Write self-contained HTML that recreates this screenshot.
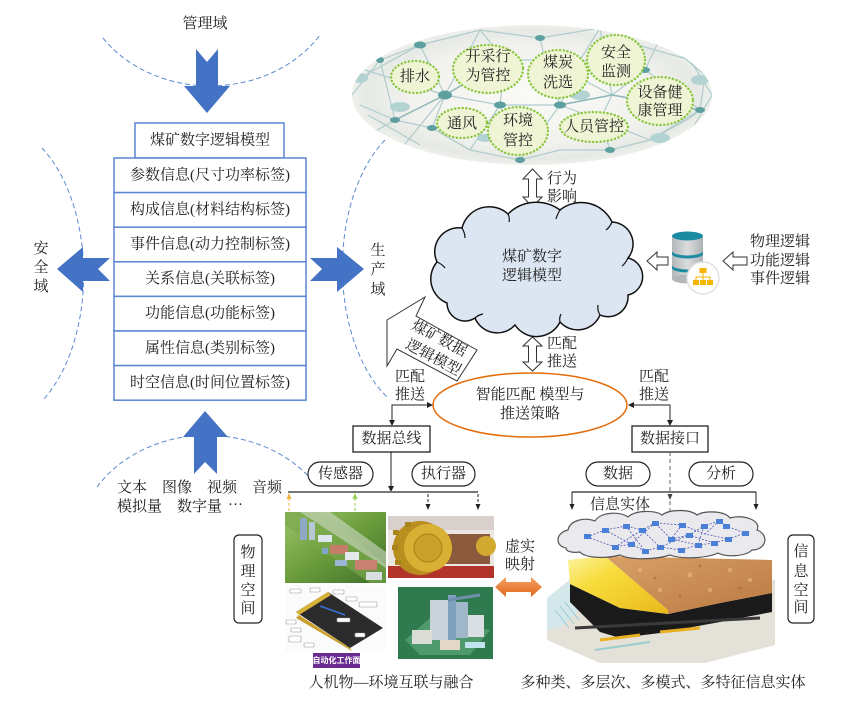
<!DOCTYPE html>
<html><head><meta charset="utf-8">
<style>
html,body{margin:0;padding:0;background:#fff;}
svg{display:block;}
text{font-family:"Liberation Serif","Noto Serif CJK SC","Noto Sans CJK SC",serif;font-size:15px;fill:#222;}
</style></head><body>
<svg width="844" height="702" viewBox="0 0 844 702" xmlns="http://www.w3.org/2000/svg">
<defs>
 <radialGradient id="eg" cx="50%" cy="50%" r="50%">
  <stop offset="0" stop-color="#fafaf7"/>
  <stop offset="0.7" stop-color="#f1f2ee"/>
  <stop offset="0.92" stop-color="#e6e9e4"/>
  <stop offset="1" stop-color="#eef0ec"/>
 </radialGradient>
 <clipPath id="ec"><ellipse cx="532" cy="95" rx="180" ry="70"/></clipPath>
 <linearGradient id="grn" x1="0" y1="0" x2="1" y2="1">
  <stop offset="0" stop-color="#9cc46a"/><stop offset="0.5" stop-color="#6a9c3c"/><stop offset="1" stop-color="#3f6e2a"/>
 </linearGradient>
 <linearGradient id="yel" x1="0" y1="0" x2="1" y2="1">
  <stop offset="0" stop-color="#fbf3a0"/><stop offset="0.35" stop-color="#f8dc3c"/><stop offset="1" stop-color="#e9b91a"/>
 </linearGradient>
 <linearGradient id="brn" x1="0" y1="0" x2="1" y2="1">
  <stop offset="0" stop-color="#d8a066"/><stop offset="1" stop-color="#bb7a42"/>
 </linearGradient>
 <linearGradient id="dbg" x1="0" y1="0" x2="1" y2="0">
  <stop offset="0" stop-color="#b4b7b9"/><stop offset="0.5" stop-color="#dadcdd"/><stop offset="1" stop-color="#aeb1b3"/>
 </linearGradient>
 <linearGradient id="org" x1="0" y1="0" x2="0" y2="1">
  <stop offset="0" stop-color="#f4a261"/><stop offset="1" stop-color="#e0661c"/>
 </linearGradient>
</defs>

<!-- dashed domain arcs -->
<g fill="none" stroke="#5b8bd0" stroke-width="1" stroke-dasharray="5,3">
 <path d="M103,38 A130,110 0 0 0 320,35"/>
 <path d="M42,148 A90,150 0 0 1 43,400"/>
 <path d="M385,140 A90,150 0 0 0 387,397"/>
 <path d="M97,487 A130,110 0 0 1 310,478"/>
</g>

<text x="205" y="24" text-anchor="middle" dominant-baseline="central">管理域</text>

<!-- blue arrows -->
<g fill="#4472c4">
 <polygon points="196,49 207,62 218,49 218,86 230,86 207,113 184,86 196,86"/>
 <polygon points="205,411 228,437 217,437 217,474 205,462 194,474 194,437 183,437"/>
 <polygon points="57,269 83,247 83,258 110,258 98,269 110,281 83,281 83,292"/>
 <polygon points="310,258 337,258 337,247 364,269 337,292 337,281 310,281 322,269"/>
</g>

<g text-anchor="middle" dominant-baseline="central">
 <text x="41" y="249">安</text><text x="41" y="268">全</text><text x="41" y="287">域</text>
 <text x="378" y="251">生</text><text x="378" y="270">产</text><text x="378" y="290">域</text>
</g>

<!-- table -->
<g fill="#fff" stroke="#5b86d2" stroke-width="1.5">
 <rect x="135" y="123" width="149" height="35"/>
 <rect x="114" y="158" width="192" height="34.6"/>
 <rect x="114" y="192.6" width="192" height="34.6"/>
 <rect x="114" y="227.2" width="192" height="34.6"/>
 <rect x="114" y="261.8" width="192" height="34.6"/>
 <rect x="114" y="296.4" width="192" height="34.6"/>
 <rect x="114" y="331" width="192" height="34.6"/>
 <rect x="114" y="365.6" width="192" height="34.6"/>
</g>
<g text-anchor="middle" dominant-baseline="central" style="fill:#333">
 <text x="210" y="140.5">煤矿数字逻辑模型</text>
 <text x="210" y="175.5">参数信息(尺寸功率标签)</text>
 <text x="210" y="210">构成信息(材料结构标签)</text>
 <text x="210" y="244.5">事件信息(动力控制标签)</text>
 <text x="210" y="279">关系信息(关联标签)</text>
 <text x="210" y="313.7">功能信息(功能标签)</text>
 <text x="210" y="348.3">属性信息(类别标签)</text>
 <text x="210" y="383">时空信息(时间位置标签)</text>
</g>

<!-- bottom-left data types -->
<text x="117" y="488" dominant-baseline="central">文本</text>
<text x="162" y="488" dominant-baseline="central">图像</text>
<text x="207" y="488" dominant-baseline="central">视频</text>
<text x="252" y="488" dominant-baseline="central">音频</text>
<text x="117" y="507" dominant-baseline="central">模拟量</text>
<text x="177" y="507" dominant-baseline="central">数字量</text>
<text x="228" y="505" dominant-baseline="central">···</text>

<!-- top network ellipse -->
<ellipse cx="532" cy="95" rx="180" ry="70" fill="url(#eg)"/>
<g clip-path="url(#ec)">
 <g fill="none" stroke="#b1cccd" stroke-width="1.2">
  <path d="M356,80 L420,45 L480,30 L540,38 L600,28 L660,38 L705,75"/>
  <path d="M360,105 L395,120 L432,128 L470,150 L520,160 L560,150 L610,150 L650,140 L690,118"/>
  <path d="M380,60 L395,120 M420,45 L445,95 L432,128 M445,95 L500,105 L560,105 L600,120 L650,140"/>
  <path d="M480,30 L505,60 L500,105 L470,150 M540,38 L545,60 L560,105 L520,160"/>
  <path d="M600,28 L612,95 L600,120 L610,150 M660,38 L645,70 L612,95 M645,70 L700,110 L690,118"/>
  <path d="M705,75 L700,110 M365,70 L445,95 M395,120 L360,140 M505,60 L545,60 L612,95"/>
  <path d="M445,95 L480,30 M560,105 L580,60 L600,28 M580,60 L645,70 M470,150 L432,128 M650,140 L700,110 M368,115 L420,145"/>
  <path d="M352,95 L380,60 L420,45 M690,60 L712,95 L680,150 M400,150 L445,95 M620,40 L690,60"/>
 </g>
 <g fill="none" stroke="#8db6b7" stroke-width="1.5">
  <path d="M395,120 L445,95 L505,60 M560,105 L612,95 L700,110"/>
 </g>
 <g fill="#5e9fa0">
  <ellipse cx="420" cy="45" rx="6" ry="3.5"/><ellipse cx="445" cy="95" rx="7" ry="4.5"/>
  <ellipse cx="432" cy="128" rx="5" ry="3"/><ellipse cx="500" cy="105" rx="6" ry="3.5"/>
  <ellipse cx="505" cy="60" rx="5" ry="3"/><ellipse cx="545" cy="60" rx="5" ry="3"/>
  <ellipse cx="560" cy="105" rx="6" ry="3.5"/><ellipse cx="600" cy="120" rx="6" ry="3.5"/>
  <ellipse cx="645" cy="70" rx="5" ry="3"/><ellipse cx="700" cy="110" rx="5" ry="3"/>
  <ellipse cx="395" cy="120" rx="5" ry="3"/><ellipse cx="520" cy="160" rx="5" ry="3"/>
  <ellipse cx="380" cy="60" rx="4" ry="3"/><ellipse cx="540" cy="38" rx="5" ry="3"/>
  <ellipse cx="660" cy="38" rx="4" ry="3"/><ellipse cx="610" cy="150" rx="5" ry="3"/>
 </g>
 <g fill="#b3d2d2">
  <ellipse cx="400" cy="107" rx="10" ry="5"/><ellipse cx="580" cy="95" rx="10" ry="5"/>
  <ellipse cx="660" cy="138" rx="10" ry="5"/><ellipse cx="700" cy="80" rx="9" ry="5"/>
  <ellipse cx="360" cy="78" rx="8" ry="5"/><ellipse cx="485" cy="138" rx="8" ry="4"/>
 </g>
</g>

<!-- green nodes -->
<g fill="#eff4d4" stroke="#8cc63f" stroke-width="2.4" stroke-dasharray="0.1,3.6" stroke-linecap="round">
 <ellipse cx="415" cy="77" rx="24" ry="16"/>
 <ellipse cx="488" cy="69" rx="35" ry="24"/>
 <ellipse cx="558" cy="74" rx="30" ry="24"/>
 <ellipse cx="616" cy="60" rx="29" ry="25"/>
 <ellipse cx="660" cy="101" rx="33" ry="24"/>
 <ellipse cx="462" cy="123" rx="25" ry="15"/>
 <ellipse cx="518" cy="131" rx="30" ry="24"/>
 <ellipse cx="594" cy="127" rx="34" ry="15"/>
</g>
<g text-anchor="middle" dominant-baseline="central">
 <text x="415" y="77">排水</text>
 <text x="488" y="57">开采行</text><text x="488" y="76">为管控</text>
 <text x="558" y="63">煤炭</text><text x="558" y="83">洗选</text>
 <text x="616" y="53">安全</text><text x="616" y="72">监测</text>
 <text x="660" y="93">设备健</text><text x="660" y="111">康管理</text>
 <text x="462" y="124">通风</text>
 <text x="518" y="121">环境</text><text x="518" y="141">管控</text>
 <text x="594" y="127">人员管控</text>
</g>

<!-- hollow double arrows -->
<g fill="#fff" stroke="#333" stroke-width="1">
 <polygon points="532.5,169 542,179 536.5,179 536.5,197 542,197 532.5,207 523,197 528.5,197 528.5,179 523,179"/>
 <polygon points="532.5,337 542,346 536.5,346 536.5,362 542,362 532.5,371 523,362 528.5,362 528.5,346 523,346"/>
 <polygon points="647,261 657,252 657,257 668,257 668,265 657,265 657,270"/>
 <polygon points="723,261 733,252 733,257 747,257 747,265 733,265 733,270"/>
</g>
<text x="547" y="179" dominant-baseline="central">行为</text>
<text x="547" y="197" dominant-baseline="central">影响</text>
<text x="547" y="344" dominant-baseline="central">匹配</text>
<text x="547" y="362" dominant-baseline="central">推送</text>

<!-- cloud -->
<path d="M447,303 A26,26 0 0 1 437,262 A24,24 0 0 1 462,228 A28,28 0 0 1 508,214 A40,40 0 0 1 560,210 A34,34 0 0 1 612,222 A22,22 0 0 1 628,258 A19,19 0 0 1 628,295 A20,20 0 0 1 600,315 A24,24 0 0 1 560,322 A26,26 0 0 1 515,325 A24,24 0 0 1 475,318 A18,18 0 0 1 447,303 Z" fill="#dce6f2" stroke="#111" stroke-width="1.5"/>
<g fill="none" stroke="#111" stroke-width="1.2">
 <path d="M462,228 q3,5 3,10"/><path d="M508,214 q2,4 1,8"/><path d="M560,210 q-3,5 -4,9"/>
 <path d="M612,222 q-2,5 -6,8"/><path d="M628,258 q-3,6 -6,8"/><path d="M600,315 q-3,-5 -2,-10"/>
 <path d="M560,322 q-1,-4 1,-8"/><path d="M475,318 q3,-3 8,-4"/><path d="M437,262 q5,2 8,6"/>
</g>
<text x="532" y="257" text-anchor="middle" dominant-baseline="central">煤矿数字</text>
<text x="532" y="276" text-anchor="middle" dominant-baseline="central">逻辑模型</text>

<!-- database icon -->
<g>
 <rect x="672" y="236" width="31" height="43" fill="url(#dbg)"/>
 <ellipse cx="687.5" cy="279" rx="15.5" ry="4.5" fill="#b4b7b9"/>
 <ellipse cx="687.5" cy="236" rx="15.5" ry="4.5" fill="#1b8aa3"/>
 <path d="M672,251 a15.5,4.5 0 0 0 31,0 v3 a15.5,4.5 0 0 1 -31,0 z" fill="#1b8aa3"/>
 <path d="M672,265 a15.5,4.5 0 0 0 31,0 v3 a15.5,4.5 0 0 1 -31,0 z" fill="#1b8aa3"/>
 <circle cx="703" cy="278" r="16" fill="#fff" stroke="#e2e2e2" stroke-width="1.5"/>
 <g fill="#f5b400">
  <rect x="699.5" y="268" width="7" height="5"/>
  <rect x="693" y="280" width="6" height="5"/><rect x="700" y="280" width="6" height="5"/><rect x="707" y="280" width="6" height="5"/>
 </g>
 <path d="M703,273 v4 M696,280 v-3 h14 v3 M703,277 v3" stroke="#f5b400" stroke-width="1" fill="none"/>
</g>
<text x="750" y="242" dominant-baseline="central">物理逻辑</text>
<text x="750" y="261" dominant-baseline="central">功能逻辑</text>
<text x="750" y="279" dominant-baseline="central">事件逻辑</text>

<!-- callout arrow -->
<polygon points="387,320 425,297 416,316 477,350 457,381 397,349 387,366" fill="#fff" stroke="#333" stroke-width="1"/>
<g style="font-size:14px" text-anchor="middle" dominant-baseline="central">
 <text transform="translate(439,339) rotate(28)">煤矿数据</text>
 <text transform="translate(433,358) rotate(28)">逻辑模型</text>
</g>

<text x="395" y="377" dominant-baseline="central">匹配</text>
<text x="395" y="395" dominant-baseline="central">推送</text>
<text x="639" y="377" dominant-baseline="central">匹配</text>
<text x="639" y="395" dominant-baseline="central">推送</text>

<!-- orange ellipse -->
<ellipse cx="530" cy="405" rx="97" ry="32" fill="#fff" stroke="#e46c0a" stroke-width="1.5"/>
<text x="530" y="395" text-anchor="middle" dominant-baseline="central">智能匹配  模型与</text>
<text x="530" y="414" text-anchor="middle" dominant-baseline="central">推送策略</text>

<!-- connectors -->
<g fill="none" stroke="#222" stroke-width="1">
 <path d="M428,405 H392 V421"/>
 <path d="M634,405 H670 V421"/>
 <path d="M391,452 V487"/>
</g>
<g fill="#222">
 <polygon points="433,405 427,402 427,408"/>
 <polygon points="392,426 389,420 395,420"/>
 <polygon points="628,405 634,402 634,408"/>
 <polygon points="670,426 667,420 673,420"/>
 <polygon points="391,492 388,486 394,486"/>
</g>

<!-- boxes -->
<rect x="353" y="426" width="77" height="26" fill="#fff" stroke="#222" stroke-width="1.3"/>
<text x="391.5" y="439" text-anchor="middle" dominant-baseline="central">数据总线</text>
<rect x="632" y="426" width="76" height="26" fill="#fff" stroke="#222" stroke-width="1.3"/>
<text x="670" y="439" text-anchor="middle" dominant-baseline="central">数据接口</text>

<!-- pills -->
<g fill="#fff" stroke="#222" stroke-width="1.2">
 <rect x="308" y="462" width="65" height="24" rx="12"/>
 <rect x="412" y="462" width="63" height="24" rx="12"/>
 <rect x="586" y="462" width="64" height="24" rx="12"/>
 <rect x="689" y="462" width="64" height="24" rx="12"/>
</g>
<g text-anchor="middle" dominant-baseline="central">
 <text x="340.5" y="474">传感器</text>
 <text x="443.5" y="474">执行器</text>
 <text x="618" y="474">数据</text>
 <text x="721" y="474">分析</text>
</g>

<!-- left bus -->
<line x1="288" y1="492" x2="478" y2="492" stroke="#777" stroke-width="2"/>
<g stroke-width="1" stroke-dasharray="3,2" fill="none">
 <line x1="289" y1="498" x2="289" y2="511" stroke="#f0b040"/>
 <line x1="355" y1="498" x2="355" y2="511" stroke="#92d050"/>
 <line x1="428" y1="494" x2="428" y2="508" stroke="#222"/>
 <line x1="478" y1="494" x2="478" y2="508" stroke="#222"/>
</g>
<polygon points="289,493 286.5,499 291.5,499" fill="#f0b040"/>
<polygon points="355,493 352.5,499 357.5,499" fill="#92d050"/>
<polygon points="428,510 425.5,504 430.5,504" fill="#222"/>
<polygon points="478,510 475.5,504 480.5,504" fill="#222"/>

<!-- right bus -->
<line x1="572" y1="492" x2="756" y2="492" stroke="#777" stroke-width="2"/>
<g stroke="#222" stroke-width="1" fill="none">
 <line x1="572" y1="492" x2="572" y2="505"/>
 <line x1="756" y1="492" x2="756" y2="505"/>
 <line x1="670" y1="452" x2="670" y2="512" stroke="#666" stroke-dasharray="4,3"/>
</g>
<polygon points="572,510 569.5,504 574.5,504" fill="#222"/>
<polygon points="756,510 753.5,504 758.5,504" fill="#222"/>
<polygon points="670,500 667.5,494 672.5,494" fill="#444"/>
<text x="620" y="505" text-anchor="middle" dominant-baseline="central">信息实体</text>

<!-- photo 1: aerial -->
<g>
 <rect x="285" y="512" width="101" height="71" fill="url(#grn)"/>
 <polygon points="285,512 320,512 386,565 386,583 370,583 285,525" fill="#7aa84c" opacity="0.7"/>
 <polygon points="300,512 330,512 386,552 386,568" fill="#cfd9c6" opacity="0.6"/>
 <rect x="300" y="518" width="7" height="22" fill="#8fa9c4"/>
 <rect x="309" y="522" width="6" height="18" fill="#b8c7d6"/>
 <rect x="318" y="535" width="14" height="7" fill="#dfe7ee"/>
 <rect x="330" y="545" width="18" height="9" fill="#c67c6a"/>
 <rect x="345" y="552" width="14" height="8" fill="#e6e9ec"/>
 <rect x="355" y="560" width="22" height="10" fill="#c88070"/>
 <rect x="335" y="560" width="12" height="6" fill="#9bb7d4"/>
 <rect x="366" y="572" width="16" height="8" fill="#d9dee3"/>
 <rect x="322" y="548" width="6" height="6" fill="#7fa6c9"/>
</g>
<!-- photo 2: bucket wheel -->
<g>
 <rect x="388" y="516" width="106" height="62" fill="#ece6e2"/>
 <rect x="388" y="516" width="106" height="14" fill="#d8d0cc"/>
 <rect x="388" y="566" width="106" height="12" fill="#b3342b"/>
 <rect x="435" y="534" width="55" height="30" fill="#8b5a3c"/>
 <circle cx="420" cy="548" r="27" fill="#b88e1e"/>
 <circle cx="428" cy="548" r="24" fill="#d9b033"/>
 <circle cx="428" cy="548" r="14" fill="#c9a02a" stroke="#a8841a" stroke-width="1"/>
 <circle cx="486" cy="546" r="10" fill="#d2aa30"/>
 <g fill="#a8841a"><rect x="393" y="530" width="6" height="5"/><rect x="392" y="545" width="6" height="5"/><rect x="395" y="560" width="6" height="5"/><rect x="405" y="522" width="6" height="5"/></g>
</g>
<!-- photo 3: belt diagram -->
<g>
 <rect x="285" y="585" width="100" height="66" fill="#fbfbfb"/>
 <polygon points="296,612 328,592 383,628 350,648" fill="#2b2b2b"/>
 <polygon points="296,612 328,592 331,595 299,615" fill="#d9b23a"/>
 <polygon points="299,615 350,648 352,651 296,618" fill="#c9a030"/>
 <line x1="320" y1="606" x2="345" y2="615" stroke="#3a6fd6" stroke-width="1.5"/>
 <g fill="#fff" stroke="#999" stroke-width="0.6">
  <rect x="290" y="589" width="11" height="4" rx="1"/><rect x="310" y="588" width="10" height="4" rx="1"/>
  <rect x="333" y="590" width="11" height="4" rx="1"/><rect x="346" y="597" width="11" height="4" rx="1"/>
  <rect x="359" y="602" width="18" height="5" rx="1"/><rect x="286" y="620" width="10" height="4" rx="1"/>
  <rect x="291" y="628" width="10" height="4" rx="1"/><rect x="289" y="636" width="12" height="6" rx="1"/>
  <rect x="304" y="643" width="10" height="4" rx="1"/><rect x="337" y="618" width="13" height="4" rx="1"/>
  <rect x="355" y="633" width="10" height="4" rx="1"/>
 </g>
</g>
<rect x="313" y="653" width="47" height="15" fill="#6a2c91"/>
<text x="336.5" y="660.5" text-anchor="middle" dominant-baseline="central" style="font-size:8px;font-weight:bold;fill:#fff;font-family:'Noto Sans CJK SC',sans-serif">自动化工作面</text>
<!-- photo 4: plant -->
<g>
 <rect x="398" y="587" width="95" height="72" fill="#2f7a4e"/>
 <polygon points="405,640 430,618 490,630 470,655 420,655" fill="#4f9a6c"/>
 <rect x="430" y="600" width="20" height="40" fill="#c9d2d8"/>
 <rect x="448" y="595" width="8" height="45" fill="#7fa3bf"/>
 <rect x="456" y="602" width="12" height="36" fill="#9fb7c9"/>
 <rect x="468" y="615" width="16" height="22" fill="#dadfe3"/>
 <rect x="412" y="630" width="20" height="14" fill="#dcdcd6"/>
 <rect x="440" y="640" width="20" height="10" fill="#e6d8c8"/>
 <rect x="465" y="642" width="20" height="6" fill="#bfe3ef"/>
 <line x1="448" y1="600" x2="480" y2="595" stroke="#6f8fae" stroke-width="3"/>
</g>

<!-- 物理空间 / 信息空间 -->
<rect x="234" y="535" width="28" height="88" rx="5" fill="#fff" stroke="#222" stroke-width="1.2"/>
<g text-anchor="middle" dominant-baseline="central">
 <text x="248" y="553">物</text><text x="248" y="572">理</text><text x="248" y="591">空</text><text x="248" y="609">间</text>
</g>
<rect x="788" y="535" width="26" height="88" rx="5" fill="#fff" stroke="#222" stroke-width="1.2"/>
<g text-anchor="middle" dominant-baseline="central">
 <text x="801" y="552">信</text><text x="801" y="572">息</text><text x="801" y="591">空</text><text x="801" y="608">间</text>
</g>

<!-- 虚实映射 -->
<text x="520" y="547" text-anchor="middle" dominant-baseline="central">虚实</text>
<text x="520" y="565" text-anchor="middle" dominant-baseline="central">映射</text>
<polygon points="495,587 506,577 506,582 531,582 531,577 542,587 531,597 531,592 506,592 506,597" fill="url(#org)"/>

<!-- coal block -->
<g>
 <polygon points="547,598 572,578 775,580 775,645 705,663 600,663 547,640" fill="#e4e1d8"/>
 <polygon points="547,598 572,578 600,590 560,628 547,630" fill="#cfeaf0" opacity="0.8"/>
 <g stroke="#9ccbd6" stroke-width="1">
  <path d="M555,610 l14,18 M560,606 l14,18 M565,602 l14,18 M570,598 l14,18 M575,594 l14,18 M580,590 l14,18 M585,586 l14,18"/>
 </g>
 <polygon points="570,584 620,608 668,614 720,603 772,593 772,612 720,622 660,633 620,638 600,632 570,602" fill="#1a1a1a"/>
 <polygon points="568,560 605,556 668,610 668,614 620,608 570,584" fill="url(#yel)"/>
 <polygon points="605,556 772,560 772,593 720,603 668,614 668,610" fill="url(#brn)"/>
 <g fill="#e8b57e" opacity="0.7">
  <circle cx="640" cy="570" r="2"/><circle cx="690" cy="575" r="2.5"/><circle cx="730" cy="570" r="2"/>
  <circle cx="710" cy="590" r="2"/><circle cx="660" cy="590" r="2"/><circle cx="750" cy="580" r="2"/>
 </g>
 <g fill="#9c6232" opacity="0.5">
  <circle cx="655" cy="578" r="1.5"/><circle cx="700" cy="566" r="1.5"/><circle cx="740" cy="588" r="1.5"/><circle cx="680" cy="596" r="1.5"/>
 </g>
 <line x1="575" y1="628" x2="760" y2="618" stroke="#3a3a3a" stroke-width="3"/>
 <path d="M600,640 L640,635 M660,632 L700,628" stroke="#e8b020" stroke-width="3"/>
 <path d="M595,650 L650,642" stroke="#9cc" stroke-width="2"/>
</g>

<!-- network cloud -->
<path d="M566,548 C555,546 555,533 568,530 C570,520 585,517 595,521 C600,512 620,511 628,517 C635,510 655,510 662,515 C670,509 690,509 697,515 C705,510 725,511 730,518 C742,514 762,520 757,530 C770,535 766,550 752,550 C745,557 725,557 718,553 C705,559 680,559 670,555 C655,560 630,560 620,555 C605,559 585,558 580,552 C574,553 566,552 566,548 Z" fill="#e9e9ee" stroke="#555" stroke-width="1.2"/>
<g fill="none" stroke="#5058b5" stroke-width="0.8" stroke-dasharray="2,1.5">
 <path d="M587,537 L605,530 L626,526 L642,530 L655,523 L671,539 L689,535 L704,526 L719,521 L726,526 L745,533"/>
 <path d="M587,537 L615,547 L631,544 L645,551 L660,547 L681,550 L698,545 L714,543 L728,539 L745,533"/>
 <path d="M605,530 L631,544 L655,523 L682,525 L705,534 L728,539 M626,526 L645,551 M671,539 L698,545 L704,526"/>
 <path d="M615,547 L642,530 L660,547 L689,535 L714,543 M682,525 L671,539 M719,521 L705,534"/>
</g>
<g fill="#4a80d8">
 <rect x="584" y="534" width="7" height="5"/><rect x="602" y="528" width="7" height="5"/><rect x="612" y="545" width="7" height="5"/>
 <rect x="623" y="524" width="7" height="5"/><rect x="628" y="542" width="7" height="5"/><rect x="639" y="528" width="7" height="5"/>
 <rect x="642" y="549" width="7" height="5"/><rect x="652" y="521" width="7" height="5"/><rect x="657" y="545" width="7" height="5"/>
 <rect x="668" y="537" width="7" height="5"/><rect x="678" y="548" width="7" height="5"/><rect x="679" y="523" width="7" height="5"/>
 <rect x="686" y="533" width="7" height="5"/><rect x="695" y="543" width="7" height="5"/><rect x="701" y="524" width="7" height="5"/>
 <rect x="711" y="541" width="7" height="5"/><rect x="716" y="519" width="7" height="5"/><rect x="723" y="524" width="7" height="5"/>
 <rect x="725" y="537" width="7" height="5"/><rect x="742" y="531" width="7" height="5"/>
</g>

<!-- bottom captions -->
<text x="391" y="683" text-anchor="middle" dominant-baseline="central">人机物—环境互联与融合</text>
<text x="663" y="683" text-anchor="middle" dominant-baseline="central">多种类、多层次、多模式、多特征信息实体</text>
</svg>
</body></html>
